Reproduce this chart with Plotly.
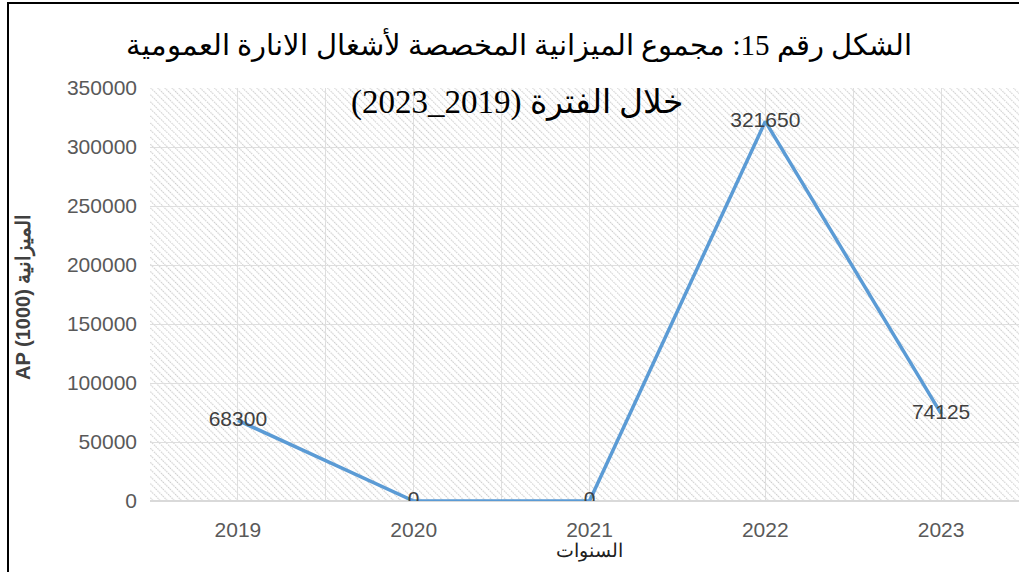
import base64
import plotly.graph_objects as go

years = [2019, 2020, 2021, 2022, 2023]
budget = [68300, 0, 0, 321650, 74125]
value_labels = ["68300", "0", "0", "321650", "74125"]

title_line1 = "الشكل رقم 15: مجموع الميزانية المخصصة لأشغال الانارة العمومية"
title_line2 = "خلال الفترة (2019_2023)\u200f"
y_title = "AP (1000) الميزانية"
x_title = "السنوات"

W, H = 1019, 572
L, R, T, B = 150, 0, 88, 71
pw, ph = W - L - R, H - T - B

# hatched background pattern as an SVG image
svg = f'''<svg xmlns="http://www.w3.org/2000/svg" width="{pw}" height="{ph}">
<defs><pattern id="p" width="5" height="5" patternUnits="userSpaceOnUse" patternTransform="rotate(-45)">
<rect width="5" height="5" fill="white"/><line x1="0" y1="0" x2="0" y2="5" stroke="#cccccc" stroke-width="2.2" stroke-dasharray="1.6 0.9"/></pattern></defs>
<rect width="{pw}" height="{ph}" fill="url(#p)"/></svg>'''
src = "data:image/svg+xml;base64," + base64.b64encode(svg.encode()).decode()

fig = go.Figure()
fig.add_trace(go.Scatter(
    x=years, y=budget, mode="lines+text",
    line=dict(color="#5b9bd5", width=3.5),
    text=value_labels, textposition="middle center",
    textfont=dict(family="Liberation Sans, Arial", size=21, color="#404040"),
    hoverinfo="skip", showlegend=False,
))

fig.update_layout(
    width=W, height=H,
    margin=dict(l=L, r=R, t=T, b=B),
    paper_bgcolor="white", plot_bgcolor="rgba(0,0,0,0)",
    images=[dict(source=src, xref="paper", yref="paper", x=0, y=1,
                 sizex=1, sizey=1, sizing="stretch", layer="below")],
    xaxis=dict(range=[2018.5, 2018.5 + pw / 175.8], tickmode="array", tickvals=years,
               ticktext=[str(y) for y in years], showgrid=True, gridcolor="#dedede", gridwidth=1,
               minor=dict(tick0=2018.5, dtick=1, showgrid=True, gridcolor="#dedede", gridwidth=1),
               ticks="", showline=False, zeroline=False, ticklabelstandoff=14,
               tickfont=dict(family="Liberation Sans, Arial", size=21, color="#595959")),
    yaxis=dict(range=[0, 350000], dtick=50000, showgrid=True, gridcolor="#dedede", gridwidth=1,
               zeroline=True, zerolinecolor="#d9d9d9", zerolinewidth=2, ticks="",
               tickformat="d", ticklabelstandoff=12,
               tickfont=dict(family="Liberation Sans, Arial", size=21, color="#595959")),
    annotations=[
        dict(text=title_line1, xref="paper", yref="paper", x=(519 - L) / pw, y=(H - B - 45) / ph,
             showarrow=False, font=dict(family="Liberation Serif, Times New Roman", size=29, color="black"),
             xanchor="center", yanchor="middle"),
        dict(text=title_line2, xref="paper", yref="paper", x=(517 - L) / pw, y=(H - B - 103) / ph,
             showarrow=False, font=dict(family="Liberation Serif, Times New Roman", size=33, color="black"),
             xanchor="center", yanchor="middle"),
        dict(text="<b>" + y_title + "</b>", xref="paper", yref="paper", x=(24 - L) / pw, y=(H - B - 297) / ph,
             showarrow=False, textangle=-90, font=dict(family="Liberation Sans, Arial", size=20, color="#404040"),
             xanchor="center", yanchor="middle"),
        dict(text=x_title, xref="paper", yref="paper", x=(589 - L) / pw, y=(H - B - 551) / ph,
             showarrow=False, font=dict(family="Liberation Sans, Arial", size=19, color="#202020"),
             xanchor="center", yanchor="middle"),
    ],
    shapes=[dict(type="rect", xref="paper", yref="paper",
                 x0=(8 - L) / pw, x1=1.2, y0=-0.5, y1=(H - B - 3) / ph,
                 line=dict(color="black", width=2), fillcolor="rgba(0,0,0,0)", layer="above")],
)

fig.write_html("out.html", config={"displayModeBar": False},
               post_script="document.body.style.margin='0';")
